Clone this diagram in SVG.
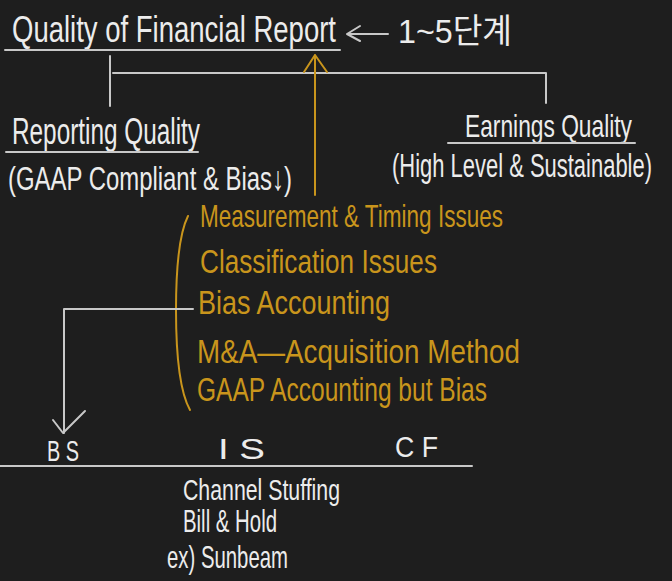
<svg xmlns="http://www.w3.org/2000/svg" width="672" height="581" viewBox="0 0 672 581">
<defs>
<style>
.w{fill:#ececec;font-family:"Liberation Sans","DejaVu Sans",sans-serif}
.o{fill:#c9951c;font-family:"Liberation Sans","DejaVu Sans",sans-serif}
.k{fill:#ececec;font-family:"Liberation Sans","Noto Sans CJK KR",sans-serif}
.ln{stroke:#c8c8c8;stroke-width:2;fill:none;stroke-linecap:round;stroke-linejoin:round}
.ol{stroke:#c9951c;stroke-width:2;fill:none;stroke-linecap:round;stroke-linejoin:round}
</style>
</defs>
<rect width="672" height="581" fill="#1e1e1e"/>
<g id="title">
<text class="w" x="12" y="42" font-size="36" textLength="324" lengthAdjust="spacingAndGlyphs">Quality of Financial Report</text>
<line class="ln" x1="5" y1="50" x2="340" y2="50"/>
<path class="ln" d="M388 34 L348 34 M360 26 L347 34 L360 41"/>
<text class="k" x="398" y="43" font-size="34" textLength="114" lengthAdjust="spacingAndGlyphs">1~5단계</text>
</g>
<g id="reporting-quality">
<text class="w" x="12" y="144" font-size="36" textLength="188" lengthAdjust="spacingAndGlyphs">Reporting Quality</text>
<line class="ln" x1="6" y1="152" x2="198" y2="152"/>
<text class="w" x="8" y="190" font-size="34" textLength="284" lengthAdjust="spacingAndGlyphs">(GAAP Compliant &amp; Bias↓)</text>
</g>
<g id="earnings-quality">
<text class="w" x="465" y="137" font-size="32" textLength="167" lengthAdjust="spacingAndGlyphs">Earnings Quality</text>
<line class="ln" x1="448" y1="143" x2="635" y2="143"/>
<text class="w" x="392" y="177" font-size="33" textLength="260" lengthAdjust="spacingAndGlyphs">(High Level &amp; Sustainable)</text>
</g>
<g id="issues">
<path class="ol" d="M188 216 Q176 240 176 310 Q176 385 190 410"/>
<text class="o" x="200" y="227" font-size="32" textLength="303" lengthAdjust="spacingAndGlyphs">Measurement &amp; Timing Issues</text>
<text class="o" x="200" y="273" font-size="34" textLength="237" lengthAdjust="spacingAndGlyphs">Classification Issues</text>
<text class="o" x="198" y="314" font-size="34" textLength="192" lengthAdjust="spacingAndGlyphs">Bias Accounting</text>
<text class="o" x="197" y="363" font-size="34" textLength="323" lengthAdjust="spacingAndGlyphs">M&amp;A—Acquisition Method</text>
<text class="o" x="197" y="401" font-size="34" textLength="290" lengthAdjust="spacingAndGlyphs">GAAP Accounting but Bias</text>
</g>
<g id="statements">
<text class="w" x="47" y="461" font-size="30" textLength="32" lengthAdjust="spacingAndGlyphs">B S</text>
<text class="w" x="218" y="459" font-size="30" textLength="47" lengthAdjust="spacingAndGlyphs">I S</text>
<text class="w" x="395" y="457" font-size="30" textLength="43" lengthAdjust="spacingAndGlyphs">C F</text>
<line class="ln" x1="0" y1="466" x2="472" y2="466"/>
</g>
<g id="is-notes">
<text class="w" x="183" y="500" font-size="30" textLength="157" lengthAdjust="spacingAndGlyphs">Channel Stuffing</text>
<text class="w" x="183" y="532" font-size="32" textLength="94" lengthAdjust="spacingAndGlyphs">Bill &amp; Hold</text>
<text class="w" x="167" y="568" font-size="32" textLength="121" lengthAdjust="spacingAndGlyphs">ex) Sunbeam</text>
</g>
<g id="connectors">
<path class="ln" d="M110 56 L110 106"/>
<path class="ln" d="M113 73 L546 73 L546 103"/>
<path class="ol" d="M315 195 L315 55 M304 72 L315 55 L327 72"/>
<path class="ln" d="M193 309 L64 309 L64 433 M53 420 L63 433 L85 411"/>
</g>
</svg>
